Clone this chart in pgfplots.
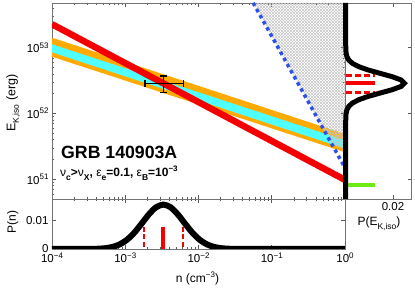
\documentclass[border=0pt]{standalone}
\usepackage{fontspec}
\setmainfont{Liberation Sans}
\usepackage{pgfplots}
\pgfplotsset{compat=1.18}
\usetikzlibrary{patterns}
\definecolor{myorange}{RGB}{255,170,0}
\definecolor{mycyan}{RGB}{80,255,255}
\definecolor{myred}{RGB}{245,0,0}
\definecolor{myblue}{RGB}{45,80,230}
\definecolor{mygreen}{RGB}{110,235,20}
\newcommand\sups[1]{\raisebox{0.42em}{\fontsize{8}{8}\selectfont #1}}
\newcommand\subs[1]{\raisebox{-0.28em}{\fontsize{8.5}{8.5}\selectfont #1}}
\pgfplotsset{panel/.style={scale only axis, scaled ticks=false,
  axis line style={black!55, line width=0.5pt},
  tick style={black!65, line width=0.5pt},
  major tick length=4pt, minor tick length=2pt, tick align=inside,
  ticklabel style={font=\fontsize{11.5}{13}\selectfont}}}
\def\minorx{2e-4,3e-4,4e-4,5e-4,6e-4,7e-4,8e-4,9e-4,2e-3,3e-3,4e-3,5e-3,6e-3,7e-3,8e-3,9e-3,2e-2,3e-2,4e-2,5e-2,6e-2,7e-2,8e-2,9e-2,0.2,0.3,0.4,0.5,0.6,0.7,0.8,0.9}
\begin{document}
\begin{tikzpicture}[x=1pt,y=1pt]
\useasboundingbox (0,0) rectangle (415,289);
% ---------------- main panel
\begin{axis}[panel, at={(52pt,90pt)}, anchor=south west, width=293pt, height=196pt,
  xmode=log, ymode=log, xmin=1e-4, xmax=1, ymin=5.012e50, ymax=4.786e53,
  xtick={1e-4,1e-3,1e-2,1e-1,1}, xticklabels={}, minor xtick/.expand once={\minorx},
  ytick={1e51,1e52,1e53}, yticklabels={10\sups{51},10\sups{52},10\sups{53}},
  minor ytick={6e50,7e50,8e50,9e50,2e51,3e51,4e51,5e51,6e51,7e51,8e51,9e51,2e52,3e52,4e52,5e52,6e52,7e52,8e52,9e52,2e53,3e53,4e53}]
\addplot[fill=myorange, draw=none] coordinates {(1e-4,1.419e53) (1,4.875e51) (1,2.570e51) (1e-4,7.295e52)} -- cycle;
\addplot[fill=mycyan, draw=none] coordinates {(1e-4,1.127e53) (1,3.917e51) (1,2.924e51) (1e-4,8.511e52)} -- cycle;
\addplot[pattern=north east lines, pattern color=black!22, draw=none] coordinates {(0.05585,4.786e53) (1,4.786e53) (1,2.924e51) (0.6622,3.404e51)} -- cycle;
\addplot[pattern=north west lines, pattern color=black!22, draw=none] coordinates {(0.05585,4.786e53) (1,4.786e53) (1,2.924e51) (0.6622,3.404e51)} -- cycle;
\addplot[myred, line width=6.5pt] coordinates {(1e-4,2.275e53) (1,9.772e50)};
\addplot[myblue, line width=3.5pt, dash pattern=on 3.5pt off 3.5pt] coordinates {(0.05012,5.943e53) (1,1.493e51)};
% data point with error bars
\addplot[black, line width=1.3pt] coordinates {(1.862e-3,2.884e52) (6.194e-3,2.884e52)};
\addplot[black, line width=1.3pt] coordinates {(3.311e-3,2.064e52) (3.311e-3,3.704e52)};
\addplot[black, line width=1.3pt] coordinates {(1.862e-3,2.552e52) (1.862e-3,3.259e52)};
\addplot[black, line width=1.3pt] coordinates {(6.194e-3,2.552e52) (6.194e-3,3.259e52)};
\addplot[black, line width=1.3pt] coordinates {(2.967e-3,2.064e52) (3.695e-3,2.064e52)};
\addplot[black, line width=1.3pt] coordinates {(2.967e-3,3.704e52) (3.695e-3,3.704e52)};
\end{axis}
% ---------------- lower panel
\begin{axis}[panel, at={(52pt,40pt)}, anchor=south west, width=293pt, height=50pt,
  xmode=log, xmin=1e-4, xmax=1, ymin=0, ymax=0.01767,
  xtick={1e-4,1e-3,1e-2,1e-1,1}, xticklabels={10\sups{−4},10\sups{−3},10\sups{−2},10\sups{−1},10\sups{0}},
  minor xtick/.expand once={\minorx},
  ytick={0,0.01}, yticklabels={0,0.01}]
\addplot[myred, line width=4pt] coordinates {(3.311e-3,0.0079) (3.311e-3,0)};
\addplot[myred, line width=2.3pt, dash pattern=on 5pt off 2.7pt] coordinates {(1.820e-3,0.0079) (1.820e-3,0)};
\addplot[myred, line width=2.3pt, dash pattern=on 5pt off 2.7pt] coordinates {(6.081e-3,0.0079) (6.081e-3,0)};
\addplot[black, line width=6pt, smooth] coordinates {(1e-4,0) (3.311e-4,0.00003) (4.169e-4,0.00009) (5.248e-4,0.00026) (6.607e-4,0.00069) (8.318e-4,0.00158) (1.047e-3,0.00319) (1.318e-3,0.00566) (1.660e-3,0.00884) (2.089e-3,0.01216) (2.630e-3,0.01473) (3.311e-3,0.0157) (4.169e-3,0.01473) (5.248e-3,0.01216) (6.607e-3,0.00884) (8.318e-3,0.00566) (1.047e-2,0.00319) (1.318e-2,0.00158) (1.660e-2,0.00069) (2.089e-2,0.00026) (2.630e-2,0.00009) (3.311e-2,0.00003) (1,0)};
\end{axis}
% ---------------- right panel
\begin{axis}[panel, at={(345.7pt,90pt)}, anchor=south west, width=66pt, height=196pt,
  xmin=0, xmax=0.0279, ymode=log, ymin=5.012e50, ymax=4.786e53,
  xtick={0.02}, xticklabels={0.02},
  ytick={1e51,1e52,1e53}, yticklabels={}, ytick pos=right, yminorticks=false, clip=false]
\addplot[myred, line width=4.5pt] coordinates {(0,2.884e52) (0.0124,2.884e52)};
\addplot[myred, line width=2.5pt, dash pattern=on 6pt off 3pt] coordinates {(0,3.802e52) (0.0124,3.802e52)};
\addplot[myred, line width=2.5pt, dash pattern=on 6pt off 3pt] coordinates {(0,2.089e52) (0.0124,2.089e52)};
\addplot[mygreen, line width=3.5pt] coordinates {(0,8.11e50) (0.0124,8.11e50)};
\addplot[black, line width=5pt] coordinates {(0,5.012e50) (0,7.244e51) (0.00006,9.120e51) (0.0002,1.023e52) (0.00055,1.148e52) (0.00135,1.288e52) (0.00292,1.445e52) (0.00561,1.622e52) (0.00958,1.820e52) (0.01452,2.042e52) (0.01955,2.291e52) (0.02337,2.570e52) (0.0248,2.884e52) (0.02337,3.236e52) (0.01955,3.631e52) (0.01452,4.074e52) (0.00958,4.571e52) (0.00561,5.129e52) (0.00292,5.754e52) (0.00135,6.457e52) (0.00055,7.244e52) (0.0002,8.128e52) (0.00006,9.120e52) (0,1.148e53) (0,4.786e53)};
\end{axis}
% ---------------- labels
\node[anchor=base, inner sep=0, font=\fontsize{12}{14}\selectfont] at (379,63) {P(E\subs{K,iso})};
\node[anchor=base, inner sep=0, rotate=90, font=\fontsize{12.5}{14}\selectfont] at (15.5,186) {E\subs{K,iso} (erg)};
\node[anchor=base, inner sep=0, rotate=90, font=\fontsize{12}{14}\selectfont] at (16,67) {P(n)};
\node[anchor=base, inner sep=0, font=\fontsize{12}{14}\selectfont] at (197.5,6.7) {n (cm\sups{−3})};
\node[anchor=base west, inner sep=0, font=\fontsize{17.7}{20}\selectfont\bfseries] at (61,130.7) {GRB 140903A};
\node[anchor=base west, inner sep=0, font=\fontsize{12}{14}\selectfont\bfseries] at (60,112.3) {{\mdseries ν}\subs{c}>{\mdseries ν}\subs{X}, {\mdseries ε}\subs{e}=0.1, {\mdseries ε}\subs{B}=10\sups{−3}};
\end{tikzpicture}
\end{document}
